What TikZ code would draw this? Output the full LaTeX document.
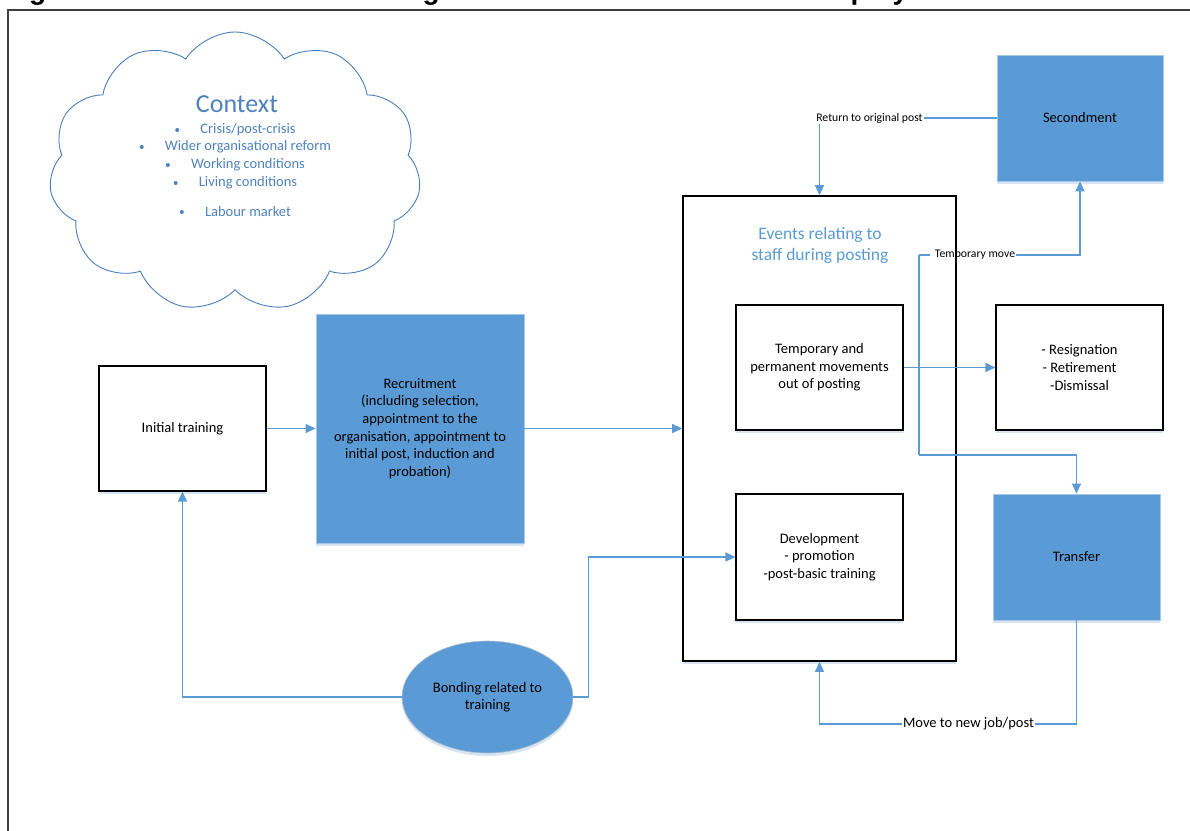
\documentclass[tikz,border=0pt]{standalone}
\usepackage{fontspec}
\setmainfont{Carlito}
\newfontfamily\titlefam{Liberation Sans}
\usetikzlibrary{arrows.meta,shapes.geometric,shapes.symbols,shadows}
\definecolor{bfill}{HTML}{5B9BD5}
\definecolor{bline}{HTML}{5B9BD5}
\definecolor{ctext}{HTML}{4F81BD}
\definecolor{cloudc}{HTML}{4A7EBB}
\definecolor{framec}{HTML}{3F3F3F}
\definecolor{shd}{HTML}{D6E4F3}
\newcommand{\bodyf}{\fontsize{14.5}{17.6}\selectfont}
\newcommand{\smallf}{\fontsize{11.7}{14}\selectfont}
\tikzset{
  refl/.style={drop shadow={shadow xshift=0pt,shadow yshift=-3pt,fill=shd,opacity=1}},
  wbox/.style={draw=black,line width=1.1pt,fill=white,align=center,font=\bodyf,inner sep=2pt,refl},
  thickbox/.style={wbox,line width=1.6pt},
  bbox/.style={draw=bfill!55!white,line width=0.8pt,fill=bfill,align=center,font=\bodyf,inner sep=2pt,refl},
  conn/.style={draw=bline,line width=1.2pt},
  arr/.style={conn,-{Triangle[length=10pt,width=9pt]}},
  lbl/.style={font=\smallf,inner sep=1pt},
  lblb/.style={font=\bodyf,inner sep=1pt},
  ctx/.style={font=\bodyf,text=ctext,inner sep=0pt},
}
\begin{document}
\begin{tikzpicture}[x=1pt,y=-1pt]
\useasboundingbox (0,0) rectangle (1190,830);
\clip (0,0) rectangle (1190,830);
% title (cut off at top)
\node[anchor=base west,font=\titlefam\bfseries\fontsize{28}{32}\selectfont,inner sep=0pt] (title) at (4,-0.5) {Figure 1 Human resource management and events related to deployment};
% frame
\draw[framec,line width=1.4pt] (8,1000) -- (8,10) -- (1250,10);
% cloud
\node[cloud,draw=cloudc,line width=0.9pt,cloud puffs=11,cloud puff arc=115,cloud ignores aspect,minimum width=372pt,minimum height=280pt] (cloud) at (235,172) {};
\node[font=\fontsize{26}{30}\selectfont,text=ctext,inner sep=0pt] (ctxt) at (237,104) {Context};
\node[ctx] (c1) at (248,130) {Crisis/post-crisis};
\node[ctx] (c2) at (248,147) {Wider organisational reform};
\node[ctx] (c3) at (248,165) {Working conditions};
\node[ctx] (c4) at (248,183) {Living conditions};
\node[ctx] (c5) at (248,212) {Labour market};
\foreach \c in {c1,c2,c3,c4,c5}{
  \fill[ctext] ([xshift=-23pt]\c.west) circle (2pt);
}
% nodes
\node[wbox,minimum width=167pt,minimum height=125pt] (init) at (182.5,428.5) {Initial training};
\node[bbox,minimum width=208pt,minimum height=229pt] (recr) at (420,428.5) {Recruitment\\(including selection,\\appointment to the\\organisation, appointment to\\initial post, induction and\\probation)};
\node[thickbox,minimum width=273pt,minimum height=465pt] (events) at (819.5,428.5) {};
\node[font=\fontsize{17.5}{21.3}\selectfont,text=bfill,align=center,inner sep=0pt] (evt) at (820,245.5) {Events relating to\\staff during posting};
\node[thickbox,minimum width=167pt,minimum height=125pt] (temp) at (819.5,367.5) {Temporary and\\permanent movements\\out of posting};
\node[wbox,minimum width=167pt,minimum height=126pt] (dev) at (819.5,557) {Development\\- promotion\\-post-basic training};
\node[bbox,minimum width=166pt,minimum height=126pt] (second) at (1080,118) {Secondment};
\node[wbox,minimum width=167pt,minimum height=125pt] (resign) at (1079.5,367.5) {- Resignation\\- Retirement\\-Dismissal};
\node[bbox,minimum width=167pt,minimum height=126pt] (transfer) at (1076.5,557) {Transfer};
\node[ellipse,draw=bfill!60!black!40!white,line width=0.6pt,fill=bfill,minimum width=171pt,minimum height=112pt,align=center,font=\bodyf,inner sep=0pt,refl] (bond) at (487.5,697) {Bonding related to\\training};
% labels
\node[lbl] (tml) at (975,255) {Temporary move};
\node[lbl] (rl) at (869.5,118) {Return to original post};
\node[lblb] (ml) at (968.5,724) {Move to new job/post};
\coordinate (tmtop) at (919,255);
\coordinate (tmbot) at (919,455);
% connectors
\draw[arr] (init) -- (recr);
\draw[arr] (recr.east) -- (recr.east -| events.west);
\draw[arr] (bond.west) -| (init.south);
\draw[arr] (bond.east) -- ++(15,0) |- (dev.west);
\draw[arr] (temp.east) -- (temp.east -| resign.west);
\draw[conn] (tmtop) -- ([xshift=-4pt]tml.west);
\draw[arr] (tml.east) -| (second.south);
\draw[conn] (tmtop) -- (tmbot);
\draw[arr] (tmbot) -| (transfer.north);
\draw[conn] (second.west) -- (rl.east);
\draw[arr] (rl.south -| events.north) -- (events.north);
\draw[conn] (transfer.south) |- (ml.east);
\draw[arr] (ml.west) -| (events.south);
\end{tikzpicture}
\end{document}
